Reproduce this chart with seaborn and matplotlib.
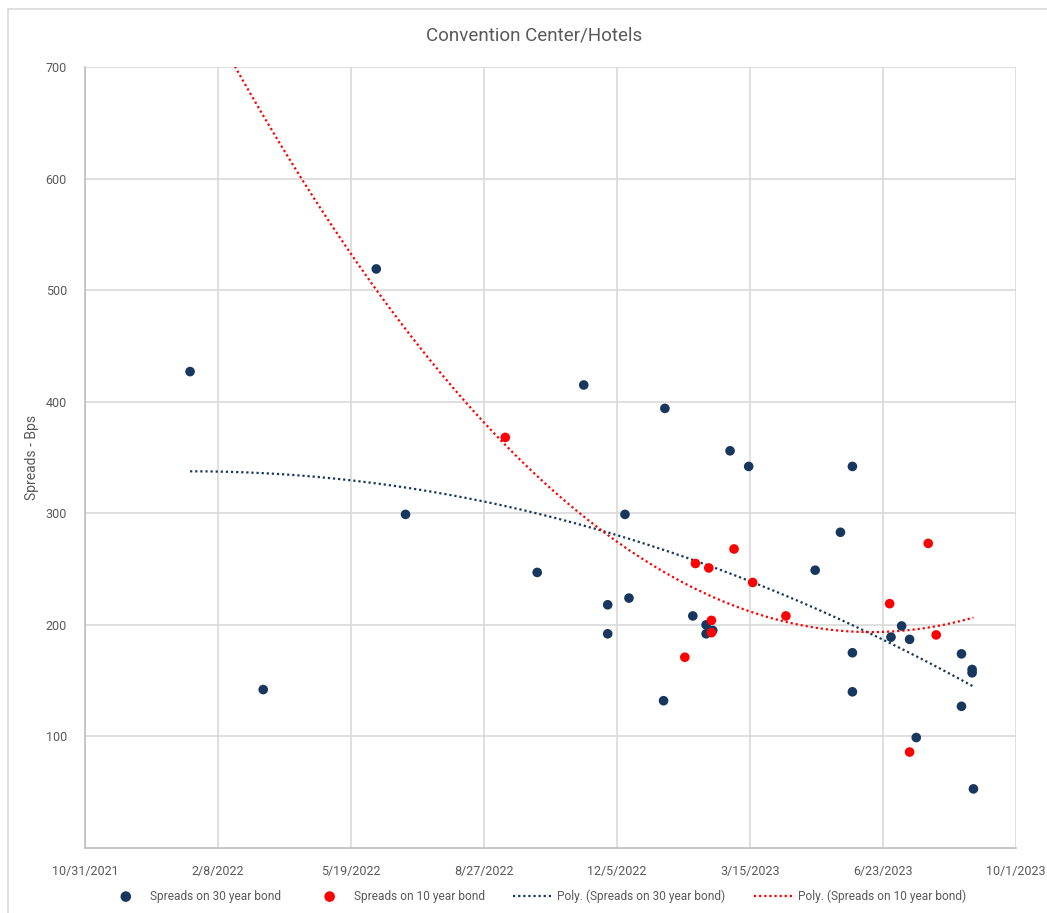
import numpy as np
import pandas as pd
import seaborn as sns
import matplotlib.pyplot as plt
import matplotlib.dates as mdates

# Spreads on 30 year bond (blue)
dates_30 = ['2022-01-18', '2022-03-14', '2022-06-07', '2022-06-29', '2022-10-06',
            '2022-11-10', '2022-11-28', '2022-11-28', '2022-12-11', '2022-12-14',
            '2023-01-09', '2023-01-10', '2023-01-31', '2023-02-10', '2023-02-10',
            '2023-02-15', '2023-02-28', '2023-03-14', '2023-05-03', '2023-05-22',
            '2023-05-31', '2023-05-31', '2023-05-31', '2023-06-29', '2023-07-07',
            '2023-07-13', '2023-07-18', '2023-08-21', '2023-08-21', '2023-08-29',
            '2023-08-29', '2023-08-30']
spreads_30 = [427, 142, 519, 299, 247,
              415, 218, 192, 299, 224,
              132, 394, 208, 200, 192,
              195, 356, 342, 249, 283,
              342, 175, 140, 189, 199,
              187, 99, 174, 127, 157,
              160, 53]

# Spreads on 10 year bond (red)
dates_10 = ['2022-09-12', '2023-01-25', '2023-02-02', '2023-02-12', '2023-02-14',
            '2023-02-14', '2023-03-03', '2023-03-17', '2023-04-11', '2023-06-28',
            '2023-07-13', '2023-07-27', '2023-08-02']
spreads_10 = [368, 171, 255, 251, 204,
              193, 268, 238, 208, 219,
              86, 273, 191]

x_ticks = pd.date_range('2021-10-31', periods=8, freq='100D')

navy = '#17375E'
red = '#FF0000'
grey_txt = '#595959'

df30 = pd.DataFrame({'date': pd.to_datetime(dates_30), 'spread': spreads_30})
df10 = pd.DataFrame({'date': pd.to_datetime(dates_10), 'spread': spreads_10})

sns.set_style('white')
plt.rcParams['font.family'] = ['Roboto', 'DejaVu Sans']

fig = plt.figure(figsize=(10.47, 9.13), dpi=100)
ax = fig.add_axes([85 / 1047, 1 - 848 / 913, 931 / 1047, 781 / 913])

sns.scatterplot(data=df30, x='date', y='spread', color=navy, s=48, edgecolor='none',
                ax=ax, label='Spreads on 30 year bond', zorder=3)
sns.scatterplot(data=df10, x='date', y='spread', color=red, s=48, edgecolor='none',
                ax=ax, label='Spreads on 10 year bond', zorder=3)

# 2nd order polynomial trendlines, like Excel
x30 = mdates.date2num(df30['date'])
x10 = mdates.date2num(df10['date'])
xs = np.linspace(x30.min(), max(x30.max(), x10.max()), 300)
c30 = np.polyfit(x30, df30['spread'], 2)
c10 = np.polyfit(x10, df10['spread'], 2)
trend = pd.DataFrame({'date': mdates.num2date(xs),
                      't30': np.polyval(c30, xs), 't10': np.polyval(c10, xs)})
t30 = trend[trend['date'] <= df30['date'].max().tz_localize('UTC')]
sns.lineplot(data=t30, x='date', y='t30', color=navy, lw=1.6, ls=(0, (1, 1.3)),
             ax=ax, label='Poly. (Spreads on 30 year bond)', zorder=2)
sns.lineplot(data=trend, x='date', y='t10', color=red, lw=1.6, ls=(0, (1, 1.3)),
             ax=ax, label='Poly. (Spreads on 10 year bond)', zorder=2)

ax.set_xlim(x_ticks[0], x_ticks[-1])
ax.set_ylim(0, 700)
ax.set_xticks(x_ticks)
ax.set_xticklabels([f'{d.month}/{d.day}/{d.year}' for d in x_ticks])
ax.set_yticks(range(100, 701, 100))
ax.grid(True, color='#D9D9D9', lw=1.2)
for s in ['top', 'right']:
    ax.spines[s].set_visible(False)
for s in ['left', 'bottom']:
    ax.spines[s].set_color('#BFBFBF')
    ax.spines[s].set_linewidth(1.2)
ax.tick_params(colors=grey_txt, labelsize=9, length=0)
ax.tick_params(axis='x', pad=12)
ax.tick_params(axis='y', pad=13)
ax.set_xlabel('')
ax.set_ylabel('Spreads - Bps', color=grey_txt, fontsize=10)
ax.yaxis.set_label_coords(-46 / 931, 0.5)
fig.text(534 / 1047, 1 - 35 / 913, 'Convention Center/Hotels', ha='center', va='center',
         fontsize=13.5, color=grey_txt)

handles, labels = ax.get_legend_handles_labels()
ax.get_legend().remove()
fig.legend(handles, labels, loc='center', bbox_to_anchor=(536 / 1047, 1 - 896 / 913),
           ncol=4, frameon=False, fontsize=8.6, labelcolor=grey_txt, handlelength=3.4,
           columnspacing=2.4, handletextpad=0.3, markerscale=1.1)

# chart border
fig.patches.append(plt.Rectangle((8 / 1047, -0.1), 1.1, 1.1 - 9 / 913,
                                 transform=fig.transFigure, fill=False,
                                 edgecolor='#D9D9D9', lw=1.2))

fig.savefig('out.png', dpi=100)
